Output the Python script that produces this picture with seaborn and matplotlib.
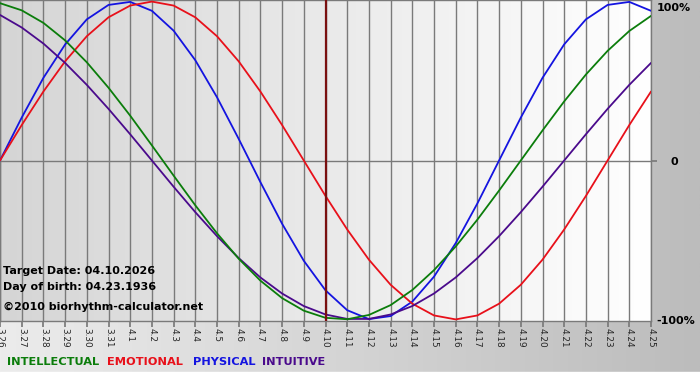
import matplotlib
matplotlib.use("Agg")
import matplotlib.pyplot as plt
import seaborn as sns
import numpy as np
import pandas as pd
from matplotlib.colors import LinearSegmentedColormap

# dates shown on the x axis (one per day)
dates = ["3.26", "3.27", "3.28", "3.29", "3.30", "3.31",
         "4.1", "4.2", "4.3", "4.4", "4.5", "4.6", "4.7", "4.8", "4.9", "4.10",
         "4.11", "4.12", "4.13", "4.14", "4.15", "4.16", "4.17", "4.18", "4.19",
         "4.20", "4.21", "4.22", "4.23", "4.24", "4.25"]
target_date = "4.10"

# daily rhythm values (-1 .. 1)
physical = [0.0, 0.27, 0.52, 0.73, 0.888, 0.979, 0.998, 0.942, 0.817, 0.631, 0.398,
            0.136, -0.136, -0.398, -0.631, -0.817, -0.942, -0.998, -0.979, -0.888,
            -0.731, -0.52, -0.27, 0.0, 0.27, 0.52, 0.731, 0.888, 0.979, 0.998, 0.942]
emotional = [0.0, 0.223, 0.434, 0.624, 0.782, 0.901, 0.975, 1.0, 0.975, 0.901, 0.782,
             0.624, 0.434, 0.223, 0.0, -0.223, -0.434, -0.624, -0.782, -0.901, -0.975,
             -1.0, -0.975, -0.901, -0.782, -0.624, -0.434, -0.223, 0.0, 0.223, 0.434]
intellectual = [0.99, 0.945, 0.866, 0.756, 0.618, 0.458, 0.282, 0.095, -0.095, -0.282,
                -0.458, -0.618, -0.756, -0.866, -0.945, -0.99, -0.999, -0.972, -0.91,
                -0.815, -0.69, -0.541, -0.372, -0.189, 0.0, 0.189, 0.372, 0.541, 0.69,
                0.815, 0.91]
intuitive = [0.916, 0.837, 0.736, 0.614, 0.476, 0.325, 0.165, 0.0, -0.165, -0.325,
             -0.476, -0.614, -0.736, -0.837, -0.916, -0.969, -0.997, -0.997, -0.969,
             -0.916, -0.837, -0.736, -0.614, -0.476, -0.325, -0.165, 0.0, 0.165, 0.325,
             0.476, 0.614]

series_names = ["PHYSICAL", "EMOTIONAL", "INTUITIVE", "INTELLECTUAL"]
series_values = [physical, emotional, intuitive, intellectual]
colors = {"INTELLECTUAL": "#0b7d0b", "EMOTIONAL": "#e8101a",
          "PHYSICAL": "#1414e0", "INTUITIVE": "#4a0a8c"}

rows = []
for name, vals in zip(series_names, series_values):
    for i, v in enumerate(vals):
        rows.append({"day": i, "value": v, "rhythm": name})
df = pd.DataFrame(rows)

sns.set_theme(style="white")
plt.rcParams["font.family"] = ["DejaVu Sans"]

fig = plt.figure(figsize=(7, 3.8), dpi=100)

# background of the whole picture
bg = fig.add_axes([0, 0, 1, 1])
bg_cmap = LinearSegmentedColormap.from_list("bg", ["#ececec", "#bcbcbc"])
bg.imshow(np.linspace(0, 1, 256).reshape(1, -1), aspect="auto", cmap=bg_cmap,
          extent=[0, 1, 0, 1])
bg.axhspan(0, 8 / 380, color="white")
bg.set_xlim(0, 1)
bg.set_ylim(0, 1)
bg.axis("off")

ax = fig.add_axes([0, 59 / 380, 651 / 700, 321 / 380])
n = len(dates)
ax_cmap = LinearSegmentedColormap.from_list("ax", ["#d5d5d5", "#ffffff"])
ax.imshow(np.linspace(0, 1, 256).reshape(1, -1), aspect="auto", cmap=ax_cmap,
          extent=[0, n - 1, -1.01, 1.01], zorder=0)

# grid lines
for i in range(n):
    ax.axvline(i, color="#7a7a7a", lw=1.0, zorder=1)
ax.axhline(0, color="#7a7a7a", lw=1.0, zorder=1)

sns.lineplot(data=df, x="day", y="value", hue="rhythm", palette=colors,
             hue_order=series_names, linewidth=1.3, legend=False, ax=ax, zorder=3)

ax.axvline(dates.index(target_date), color="#7a1010", lw=1.6, zorder=4)

ax.set_xlim(0, n - 1)
ax.set_ylim(-1.01, 1.01)
ax.set_xlabel("")
ax.set_ylabel("")
for s in ax.spines.values():
    s.set_color("#7a7a7a")
    s.set_linewidth(1.0)
ax.set_xticks(range(n))
ax.set_xticklabels(dates, rotation=270, fontsize=6.4)
ax.tick_params(axis="x", length=4, color="#7a7a7a", pad=1, bottom=True)
ax.yaxis.tick_right()
ax.set_yticks([0])
ax.set_yticklabels([""])
ax.tick_params(axis="y", length=4, color="#7a7a7a", right=True)

# right side percentage labels
ax.text(1.008, 0.99, "100%", transform=ax.transAxes, ha="left", va="top",
        fontsize=8, fontweight="bold", color="black")
ax.text(1.03, 0.495, "0", transform=ax.transAxes, ha="left", va="center",
        fontsize=8, fontweight="bold", color="black")
ax.text(1.008, 0.0, "-100%", transform=ax.transAxes, ha="left", va="center",
        fontsize=8, fontweight="bold", color="black")

# info text
info = ["Target Date: 04.10.2026", "Day of birth: 04.23.1936",
        "\u00a92010 biorhythm-calculator.net"]
info_y = [271, 287, 307]
for t, y in zip(info, info_y):
    fig.text(3 / 700, 1 - y / 380, t, ha="left", va="center", fontsize=8,
             fontweight="bold", color="black")

# legend row
legend_names = ["INTELLECTUAL", "EMOTIONAL", "PHYSICAL", "INTUITIVE"]
legend_x = [7, 107, 193, 262]
for name, x in zip(legend_names, legend_x):
    fig.text(x / 700, 1 - 362 / 380, name, ha="left", va="center", fontsize=8.2,
             fontweight="bold", color=colors[name])

fig.savefig("out.png", dpi=100)
